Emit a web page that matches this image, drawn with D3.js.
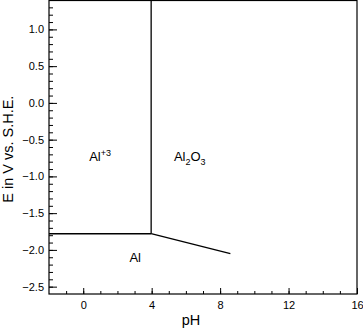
<!DOCTYPE html>
<html>
<head>
<meta charset="utf-8">
<script src="https://cdn.jsdelivr.net/npm/d3@7"></script>
<style>
  body { margin: 0; background: #fff; }
  text { font-family: "Liberation Sans", Arial, sans-serif; fill: #000; }
</style>
</head>
<body>
<div id="chart"></div>
<script>
// boundary lines of the Pourbaix diagram (pH, E)
const alIonAl = [[-2, -1.78], [3.97, -1.78]];
const alIonOxide = [[3.97, 1.4], [3.97, -1.78]];
const oxideAl = [[3.97, -1.78], [8.6, -2.05]];
const xTicks = [0, 4, 8, 12, 16];
const yTicks = [1.0, 0.5, 0.0, -0.5, -1.0, -1.5, -2.0, -2.5];
// region labels: position in (pH, E) and text pieces (0 normal, 1 sub, -1 super)
const regions = [
  {x: 0.35, y: -0.79, parts: [["Al", 0], ["+3", -1]]},
  {x: 5.3, y: -0.79, parts: [["Al", 0], ["2", 1], ["O", 0], ["3", 1]]},
  {x: 2.7, y: -2.17, parts: [["Al", 0]]}
];

const W = 363, H = 332;
const margin = {top: 0, right: 6, bottom: 38, left: 49};
const width = W - margin.left - margin.right,
      height = H - margin.top - margin.bottom;

const svg = d3.select("#chart").append("svg")
  .attr("width", W).attr("height", H)
  .append("g")
  .attr("transform", `translate(${margin.left},${margin.top})`);

const x = d3.scaleLinear().domain([-2, 16]).range([0, width]);
const y = d3.scaleLinear().domain([-2.6, 1.4]).range([height, 0]);

// minor ticks
svg.append("g")
  .attr("transform", `translate(0,${height})`)
  .call(d3.axisTop(x).tickValues(d3.range(-1, 16, 1)).tickSize(3).tickFormat(""))
  .call(g => g.select(".domain").remove());
svg.append("g")
  .call(d3.axisRight(y).tickValues(d3.range(-25, 14, 1).map(d => d / 10)).tickSize(4).tickFormat(""))
  .call(g => g.select(".domain").remove());

// major ticks + labels
const fmt = d => d3.format(".1f")(d).replace("-", "\u2212");
svg.append("g")
  .attr("transform", `translate(0,${height})`)
  .call(d3.axisTop(x).tickValues(xTicks).tickSize(6).tickFormat(""))
  .call(g => g.select(".domain").remove());
svg.append("g")
  .attr("transform", `translate(0,${height})`)
  .call(d3.axisBottom(x).tickValues(xTicks).tickSize(0).tickPadding(7))
  .call(g => g.select(".domain").remove())
  .selectAll("text").style("font-size", "11px");
svg.append("g")
  .call(d3.axisRight(y).tickValues(yTicks).tickSize(8).tickFormat(""))
  .call(g => g.select(".domain").remove());
svg.append("g")
  .call(d3.axisLeft(y).tickValues(yTicks).tickSize(0).tickPadding(5).tickFormat(fmt))
  .call(g => g.select(".domain").remove())
  .selectAll("text").style("font-size", "11px");

svg.selectAll(".tick line").attr("stroke", "#000");

// frame
svg.append("rect")
  .attr("x", 0).attr("y", 0.5)
  .attr("width", width).attr("height", height - 0.5)
  .attr("fill", "none").attr("stroke", "#000").attr("stroke-width", 1.2);

// boundaries
const line = d3.line().x(d => x(d[0])).y(d => y(d[1]));
[alIonAl, alIonOxide, oxideAl].forEach(seg => {
  svg.append("path").datum(seg)
    .attr("d", line)
    .attr("fill", "none").attr("stroke", "#000").attr("stroke-width", 1.3);
});

// region labels
regions.forEach(r => {
  const t = svg.append("text")
    .attr("x", x(r.x)).attr("y", y(r.y))
    .style("font-size", "13px");
  r.parts.forEach(p => {
    t.append("tspan")
      .attr("baseline-shift", p[1] > 0 ? "-45%" : (p[1] < 0 ? "60%" : null))
      .style("font-size", p[1] === 0 ? "13px" : "9px")
      .text(p[0]);
  });
});

// axis titles
svg.append("text")
  .attr("x", x(6.3)).attr("y", height + 31)
  .attr("text-anchor", "middle")
  .style("font-size", "14.5px")
  .text("pH");
svg.append("text")
  .attr("transform", `translate(${-margin.left + 13},${y(-0.63)}) rotate(-90)`)
  .attr("text-anchor", "middle")
  .style("font-size", "14.5px")
  .text("E in V vs. S.H.E.");
</script>
</body>
</html>
